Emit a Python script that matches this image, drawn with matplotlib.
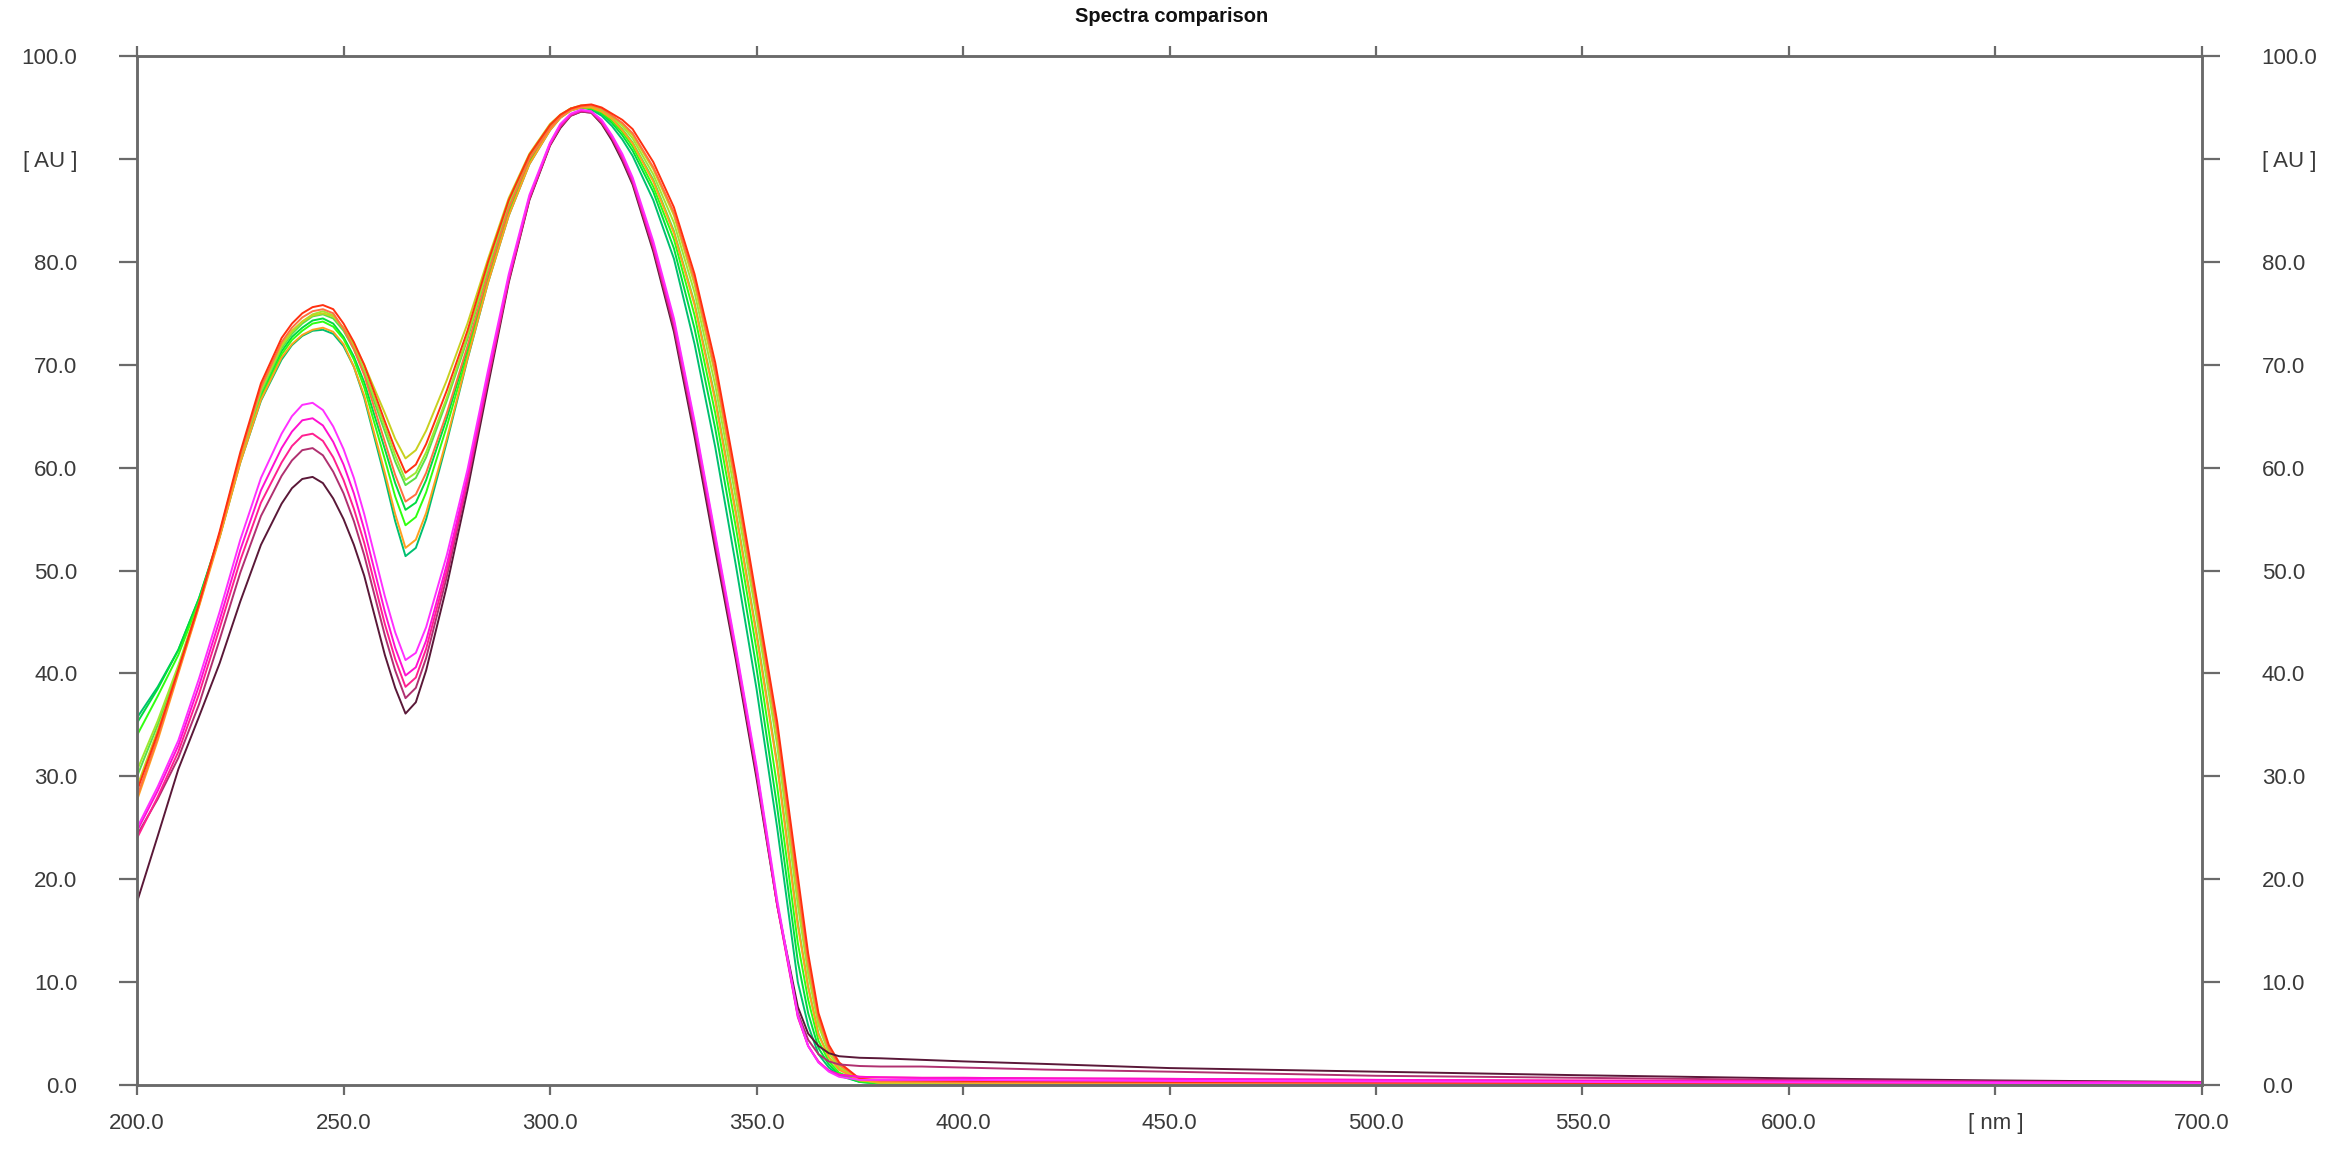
import numpy as np
import matplotlib.pyplot as plt

# wavelength grid [nm] (denser around the peaks, the dip and the foot)
wavelength = [200, 205, 210, 215, 220, 225, 230,
              235, 237.5, 240, 242.5, 245, 247.5, 250, 252.5, 255,
              260, 262.5, 265, 267.5, 270,
              275, 280, 285, 290, 295, 300,
              302.5, 305, 307.5, 310, 312.5, 315, 317.5, 320,
              325, 330, 335, 340, 345, 350, 355,
              360, 362.5, 365, 367.5, 370, 375, 380,
              390, 400, 420, 450, 500, 550, 600, 650, 700]

# absorbance [AU], one list per spectrum
teal = [35.7, 38.7, 42.3, 47.3, 53.3, 60.5, 66.5,
        70.5, 71.9, 72.8, 73.3, 73.4, 73.0, 71.8, 69.8, 66.8,
        59.0, 54.8, 51.4, 52.2, 55.0,
        62.5, 70.5, 78.0, 84.5, 89.5, 92.8,
        94.0, 94.7, 95.0, 94.8, 94.2, 93.2, 91.9, 90.3,
        86.0, 80.3, 72.0, 62.0, 50.5, 38.5, 25.0,
        10.0, 5.8, 3.0, 1.7, 0.9, 0.3, 0.15,
        0.1, 0.1, 0.1, 0.08, 0.06, 0.05, 0.05, 0.05, 0.05]
green = [35.2, 38.5, 42.3, 47.3, 53.5, 60.8, 67.0,
         71.3, 72.7, 73.6, 74.3, 74.5, 74.0, 72.7, 70.8, 68.3,
         61.8, 58.5, 55.9, 56.6, 58.8,
         64.8, 71.5, 78.5, 85.0, 89.8, 93.0,
         94.1, 94.8, 95.0, 94.9, 94.4, 93.5, 92.3, 90.8,
         86.8, 81.3, 73.5, 63.8, 52.5, 40.5, 27.0,
         12.0, 7.0, 3.6, 2.0, 1.0, 0.3, 0.15,
         0.12, 0.1, 0.1, 0.08, 0.07, 0.06, 0.05, 0.05, 0.05]
bright_green = [34.0, 37.8, 41.8, 47.0, 53.3, 60.7, 66.8,
                71.0, 72.4, 73.3, 74.0, 74.2, 73.7, 72.5, 70.5, 67.8,
                60.8, 57.2, 54.4, 55.2, 57.6,
                64.0, 71.0, 78.2, 84.8, 89.7, 92.9,
                94.1, 94.8, 95.0, 94.9, 94.5, 93.7, 92.6, 91.2,
                87.3, 82.2, 74.8, 65.3, 54.2, 42.3, 29.0,
                13.8, 8.3, 4.3, 2.3, 1.2, 0.35, 0.15,
                0.12, 0.1, 0.1, 0.1, 0.08, 0.08, 0.1, 0.12, 0.1]
green2 = [30.0, 35.0, 40.6, 46.7, 53.4, 60.9, 67.3,
          71.6, 73.0, 74.0, 74.7, 74.9, 74.5, 73.3, 71.5, 69.2,
          63.5, 60.6, 58.3, 59.0, 61.0,
          66.5, 72.5, 79.3, 85.5, 90.1, 93.1,
          94.2, 94.9, 95.1, 95.1, 94.7, 93.9, 92.9, 91.6,
          88.0, 83.0, 76.0, 66.8, 55.7, 44.0, 31.3,
          15.8, 9.6, 5.0, 2.7, 1.5, 0.45, 0.2,
          0.15, 0.12, 0.1, 0.1, 0.08, 0.07, 0.06, 0.05, 0.05]
yellow_green = [30.6, 35.4, 40.8, 46.8, 53.5, 61.0, 67.5,
                71.8, 73.2, 74.2, 74.9, 75.2, 74.8, 73.5, 71.8, 69.5,
                64.0, 61.2, 58.8, 59.5, 61.5,
                66.8, 72.8, 79.5, 85.7, 90.2, 93.2,
                94.2, 94.9, 95.1, 95.1, 94.8, 94.1, 93.2, 92.0,
                88.5, 83.8, 77.0, 68.0, 57.0, 45.5, 33.0,
                17.5, 10.8, 5.8, 3.1, 1.7, 0.5, 0.2,
                0.15, 0.12, 0.1, 0.1, 0.08, 0.07, 0.06, 0.05, 0.05]
olive = [29.0, 34.5, 40.3, 46.6, 53.6, 61.2, 67.8,
         72.0, 73.3, 74.2, 74.8, 75.0, 74.7, 73.6, 72.0, 70.0,
         65.3, 62.8, 60.9, 61.7, 63.6,
         68.5, 74.0, 80.3, 86.2, 90.5, 93.4,
         94.3, 94.9, 95.2, 95.2, 94.9, 94.2, 93.4, 92.3,
         89.0, 84.5, 77.8, 69.0, 58.0, 46.3, 34.0,
         18.5, 11.5, 6.2, 3.4, 1.9, 0.55, 0.2,
         0.15, 0.12, 0.1, 0.1, 0.08, 0.07, 0.06, 0.05, 0.05]
orange = [27.7, 33.5, 40.0, 46.5, 53.2, 60.5, 66.6,
          70.7, 72.0, 72.9, 73.4, 73.6, 73.2, 72.0, 69.8, 67.0,
          59.5, 55.5, 52.2, 53.0, 55.6,
          62.8, 70.6, 78.0, 84.5, 89.5, 92.8,
          94.0, 94.7, 95.0, 95.0, 94.6, 93.9, 92.8, 91.5,
          87.8, 82.8, 75.8, 66.5, 55.5, 43.7, 31.0,
          15.5, 9.5, 4.9, 2.7, 1.5, 0.45, 0.3,
          0.3, 0.25, 0.2, 0.2, 0.15, 0.12, 0.1, 0.08, 0.05]
orange_red = [28.0, 33.8, 40.2, 46.7, 53.6, 61.2, 67.8,
              72.2, 73.6, 74.6, 75.2, 75.4, 75.0, 73.5, 71.5, 69.0,
              62.5, 59.3, 56.7, 57.4, 59.5,
              65.3, 71.8, 78.8, 85.2, 90.0, 93.0,
              94.1, 94.8, 95.1, 95.2, 94.9, 94.2, 93.5, 92.5,
              89.2, 84.8, 78.3, 69.5, 58.5, 46.6, 34.5,
              19.3, 12.0, 6.6, 3.6, 2.0, 0.6, 0.4,
              0.35, 0.3, 0.3, 0.25, 0.2, 0.15, 0.12, 0.1, 0.08]
red = [28.6, 34.2, 40.4, 46.8, 53.8, 61.5, 68.2,
       72.6, 74.0, 75.0, 75.6, 75.8, 75.4, 74.0, 72.2, 70.0,
       64.5, 61.8, 59.5, 60.3, 62.3,
       67.5, 73.3, 80.0, 86.0, 90.4, 93.3,
       94.3, 94.9, 95.2, 95.3, 95.0, 94.4, 93.8, 92.9,
       89.7, 85.3, 78.8, 70.2, 59.2, 47.3, 35.3,
       20.3, 12.8, 7.0, 3.9, 2.2, 0.6, 0.5,
       0.45, 0.4, 0.35, 0.3, 0.25, 0.2, 0.15, 0.12, 0.1]
magenta = [25.0, 29.0, 33.5, 39.5, 46.0, 53.0, 59.0,
           63.3, 65.0, 66.1, 66.3, 65.6, 64.0, 61.8, 59.0, 55.5,
           47.5, 44.0, 41.3, 42.0, 44.5,
           51.5, 59.8, 69.5, 78.8, 86.5, 91.6,
           93.4, 94.4, 94.8, 94.6, 93.8, 92.3, 90.5, 88.2,
           82.0, 74.5, 64.5, 53.5, 42.5, 31.0, 18.0,
           6.8, 3.8, 2.2, 1.3, 0.8, 0.5, 0.5,
           0.5, 0.5, 0.45, 0.4, 0.35, 0.3, 0.25, 0.2, 0.15]
pink_magenta = [24.7, 28.6, 33.0, 38.8, 45.2, 52.0, 57.8,
                61.9, 63.5, 64.6, 64.8, 64.1, 62.5, 60.3, 57.5, 54.0,
                46.0, 42.5, 39.8, 40.6, 43.2,
                50.6, 59.2, 69.0, 78.5, 86.3, 91.5,
                93.3, 94.3, 94.7, 94.6, 93.7, 92.2, 90.3, 88.0,
                81.7, 74.2, 64.2, 53.2, 42.2, 30.7, 17.7,
                6.7, 3.8, 2.2, 1.4, 1.0, 0.8, 0.75,
                0.7, 0.7, 0.65, 0.6, 0.5, 0.4, 0.35, 0.3, 0.25]
pink = [24.0, 28.0, 32.4, 38.0, 44.4, 51.0, 56.6,
        60.5, 62.1, 63.1, 63.3, 62.6, 61.0, 58.8, 56.0, 52.7,
        44.8, 41.4, 38.7, 39.6, 42.4,
        50.0, 58.8, 68.7, 78.3, 86.2, 91.4,
        93.2, 94.3, 94.7, 94.6, 93.6, 92.1, 90.2, 87.9,
        81.5, 74.0, 64.0, 53.0, 42.0, 30.5, 17.5,
        6.6, 3.8, 2.3, 1.4, 1.0, 0.8, 0.75,
        0.7, 0.7, 0.65, 0.6, 0.5, 0.45, 0.4, 0.3, 0.25]
mauve = [24.3, 27.8, 31.8, 37.0, 43.3, 49.8, 55.3,
         59.2, 60.7, 61.7, 61.9, 61.2, 59.6, 57.5, 54.8, 51.5,
         43.7, 40.3, 37.6, 38.6, 41.5,
         49.4, 58.5, 68.5, 78.2, 86.1, 91.4,
         93.1, 94.2, 94.6, 94.5, 93.5, 92.0, 90.0, 87.7,
         81.3, 73.6, 63.6, 52.6, 41.8, 30.3, 17.5,
         7.0, 4.4, 3.0, 2.3, 2.0, 1.85, 1.8,
         1.8, 1.7, 1.5, 1.3, 0.9, 0.7, 0.5, 0.35, 0.25]
maroon = [17.8, 24.2, 30.7, 35.8, 41.0, 47.0, 52.5,
          56.5, 58.0, 58.9, 59.1, 58.5, 57.0, 55.0, 52.5, 49.5,
          41.8, 38.6, 36.1, 37.2, 40.3,
          48.5, 57.8, 68.0, 78.0, 86.0, 91.3,
          93.0, 94.2, 94.6, 94.5, 93.4, 91.8, 89.8, 87.5,
          81.0, 73.2, 63.0, 52.0, 41.3, 29.8, 17.5,
          7.6, 5.0, 3.8, 3.1, 2.8, 2.65, 2.6,
          2.45, 2.3, 2.05, 1.65, 1.3, 0.95, 0.65, 0.45, 0.3]

spectra = [teal, green, bright_green, green2, yellow_green, olive,
           orange, orange_red, red,
           maroon, mauve, pink, pink_magenta, magenta]
colors = ['#00c070', '#00dc40', '#30ff10', '#58e048', '#9ee830', '#c8d020',
          '#ffa020', '#ff7040', '#ff3010',
          '#5a1838', '#b03070', '#ff2090', '#ff10d0', '#ff30ff']

x_ticks = np.arange(200, 701, 50)
x_labels = ['%.1f' % v for v in x_ticks]
x_labels[list(x_ticks).index(650)] = '[ nm ]'
y_ticks = np.arange(0, 101, 10)
y_labels = ['%.1f' % v for v in y_ticks]
y_labels[list(y_ticks).index(90)] = '[ AU ]'

plt.rcParams['font.family'] = ['Liberation Sans', 'DejaVu Sans']

fig = plt.figure(figsize=(23.43, 11.51), dpi=100)
ax = fig.add_axes([0.0585, 0.0573, 0.8813, 0.894])

for vals, c in zip(spectra, colors):
    assert len(vals) == len(wavelength)
    ax.plot(wavelength, vals, color=c, lw=1.4)

ax.set_xlim(200, 700)
ax.set_ylim(0, 100)

axis_col = '#6a6a6a'
for s in ax.spines.values():
    s.set_color(axis_col)
    s.set_linewidth(1.8)

ax.set_xticks(x_ticks)
ax.set_xticklabels(x_labels)
ax.set_yticks(y_ticks)
ax.set_yticklabels(y_labels)
ax.tick_params(axis='x', direction='out', length=7, width=1.6, color=axis_col,
               top=True, labelsize=16, labelcolor='#3a3a3a', pad=13)
ax.tick_params(axis='y', direction='out', length=13, width=1.6, color=axis_col,
               labelsize=16, labelcolor='#3a3a3a', pad=30)

ax2 = ax.twinx()
ax2.set_ylim(0, 100)
ax2.set_yticks(y_ticks)
ax2.set_yticklabels(y_labels)
ax2.tick_params(axis='y', direction='out', length=13, width=1.6, color=axis_col,
                labelsize=16, labelcolor='#3a3a3a', pad=30)
for s in ax2.spines.values():
    s.set_color(axis_col)
    s.set_linewidth(1.8)

fig.text(0.5, 0.986, 'Spectra comparison', ha='center', va='center',
         fontsize=14.5, fontweight='bold', color='#111111')

fig.savefig('out.png', dpi=100)
